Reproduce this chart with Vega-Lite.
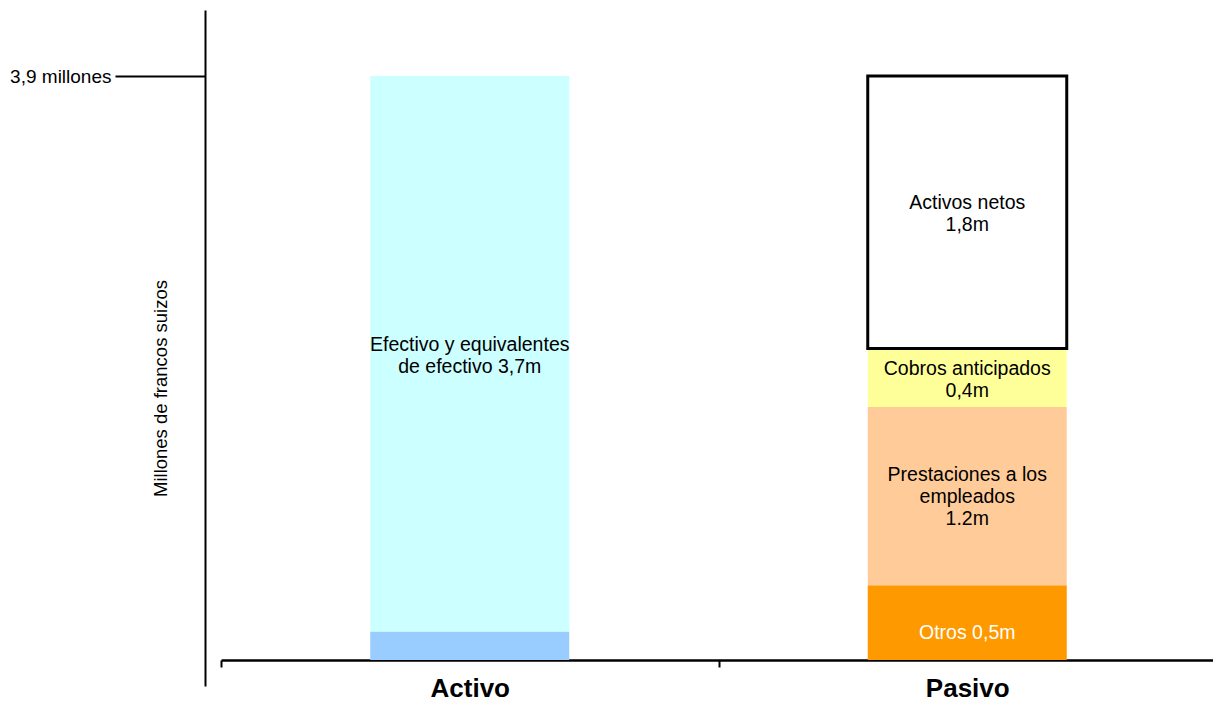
{
  "$schema": "https://vega.github.io/schema/vega-lite/v6.json",
  "width": 995,
  "height": 676,
  "autosize": "none",
  "padding": {"left": 221, "top": 10, "right": 0, "bottom": 16},
  "background": "white",
  "config": {"view": {"stroke": null}, "font": "Liberation Sans"},
  "data": {"values": [
    {"lado": "Activo", "segmento": "Otros activos", "orden": 1, "valor": 0.19, "etiqueta": ""},
    {"lado": "Activo", "segmento": "Efectivo y equivalentes de efectivo", "orden": 2, "valor": 3.71, "etiqueta": "Efectivo y equivalentes\nde efectivo 3,7m"},
    {"lado": "Pasivo", "segmento": "Otros", "orden": 1, "valor": 0.5, "etiqueta": "Otros 0,5m"},
    {"lado": "Pasivo", "segmento": "Prestaciones a los empleados", "orden": 2, "valor": 1.19, "etiqueta": "Prestaciones a los\nempleados\n1.2m"},
    {"lado": "Pasivo", "segmento": "Cobros anticipados", "orden": 3, "valor": 0.39, "etiqueta": "Cobros anticipados\n0,4m"},
    {"lado": "Pasivo", "segmento": "Activos netos", "orden": 4, "valor": 1.82, "etiqueta": "Activos netos\n1,8m"}
  ]},
  "transform": [
    {"stack": "valor", "groupby": ["lado"], "sort": [{"field": "orden"}], "as": ["v0", "v1"]},
    {"calculate": "(datum.v0 + datum.v1) / 2", "as": "medio"}
  ],
  "encoding": {
    "x": {
      "field": "lado",
      "type": "nominal",
      "sort": ["Activo", "Pasivo"],
      "scale": {"paddingInner": 0, "paddingOuter": 0},
      "axis": {
        "title": null,
        "orient": "bottom",
        "offset": -26,
        "domainColor": "black",
        "domainWidth": 2.5,
        "tickColor": "black",
        "tickWidth": 2,
        "tickSize": 7,
        "tickBand": "extent",
        "labelFontSize": 26,
        "labelFontWeight": "bold",
        "labelColor": "black",
        "labelPadding": 8,
        "labelAngle": 0
      }
    }
  },
  "layer": [
    {
      "mark": {"type": "bar", "width": {"band": 0.4}, "stroke": "black"},
      "encoding": {
        "y": {
          "field": "v0",
          "type": "quantitative",
          "scale": {"domain": [-0.1736, 4.341], "nice": false, "zero": false},
          "axis": {
            "title": "Millones de francos suizos",
            "offset": 16,
            "values": [3.9],
            "labelExpr": "'3,9 millones'",
            "tickSize": 90,
            "tickWidth": 2,
            "tickColor": "black",
            "domainColor": "black",
            "domainWidth": 2,
            "labelFontSize": 19,
            "labelColor": "black",
            "labelPadding": 4,
            "grid": false,
            "titleFontSize": 18.5,
            "titleFontWeight": "normal",
            "titleColor": "black",
            "titleX": -45,
            "titleY": 378,
            "titleAngle": -90,
            "titleAlign": "center",
            "titleBaseline": "middle"
          }
        },
        "y2": {"field": "v1"},
        "color": {
          "field": "segmento",
          "type": "nominal",
          "scale": {
            "domain": ["Otros activos", "Efectivo y equivalentes de efectivo", "Otros", "Prestaciones a los empleados", "Cobros anticipados", "Activos netos"],
            "range": ["#99CCFF", "#CCFFFF", "#FF9900", "#FFCC99", "#FFFF99", "#FFFFFF"]
          },
          "legend": null
        },
        "strokeWidth": {
          "condition": {"test": "datum.segmento === 'Activos netos'", "value": 3},
          "value": 0
        }
      }
    },
    {
      "transform": [{"filter": "indexof(['Efectivo y equivalentes de efectivo', 'Cobros anticipados', 'Activos netos'], datum.segmento) >= 0"}],
      "mark": {"type": "text", "lineBreak": "\n", "fontSize": 19.5, "lineHeight": 22, "baseline": "middle", "dy": -9, "color": "black"},
      "encoding": {
        "y": {"field": "medio", "type": "quantitative"},
        "text": {"field": "etiqueta"}
      }
    },
    {
      "transform": [{"filter": "datum.segmento === 'Prestaciones a los empleados'"}],
      "mark": {"type": "text", "lineBreak": "\n", "fontSize": 19.5, "lineHeight": 22, "baseline": "middle", "dy": -21, "color": "black"},
      "encoding": {
        "y": {"field": "medio", "type": "quantitative"},
        "text": {"field": "etiqueta"}
      }
    },
    {
      "transform": [{"filter": "datum.segmento === 'Otros'"}],
      "mark": {"type": "text", "fontSize": 19.5, "baseline": "middle", "dy": 10, "color": "white"},
      "encoding": {
        "y": {"field": "medio", "type": "quantitative"},
        "text": {"field": "etiqueta"}
      }
    }
  ]
}
